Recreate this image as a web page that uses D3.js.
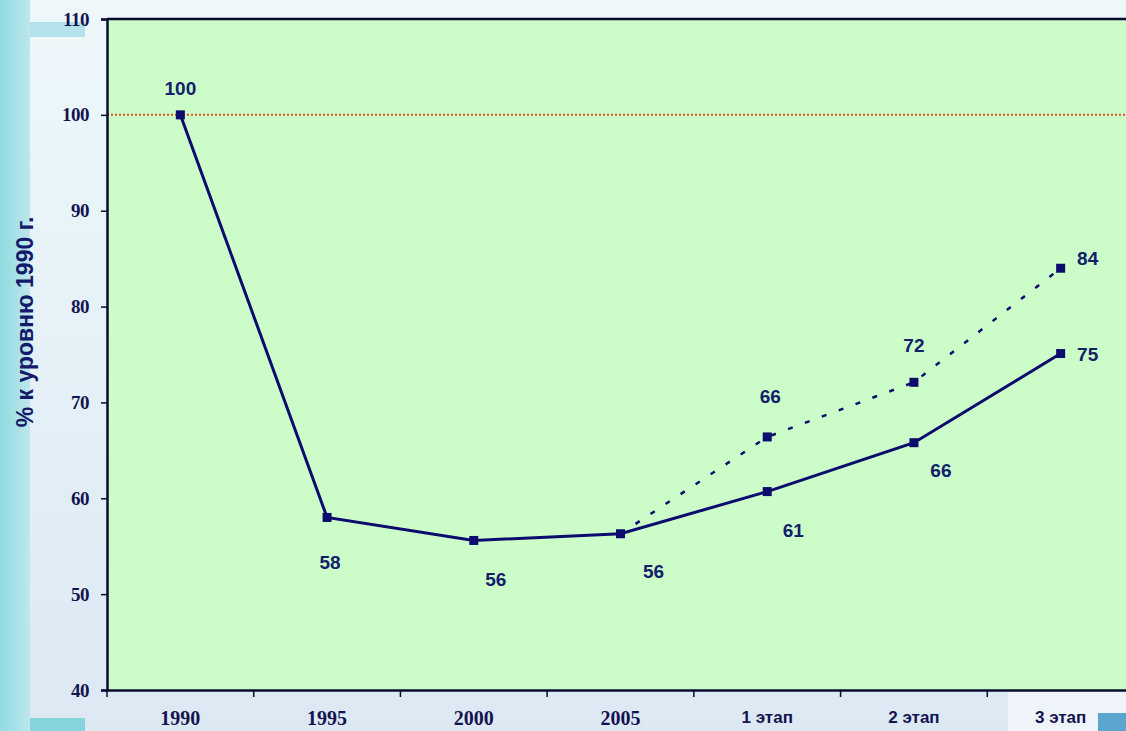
<!DOCTYPE html>
<html>
<head>
<meta charset="utf-8">
<script src="https://cdn.jsdelivr.net/npm/d3@7/dist/d3.min.js"></script>
<style>
  html, body { margin: 0; padding: 0; background: #e6f2f8; }
  svg { display: block; }
</style>
</head>
<body>
<svg id="chart" width="1126" height="731"></svg>
<script>
// Categories along the x axis
const categories = ["1990", "1995", "2000", "2005", "1 этап", "2 этап", "3 этап"];
// Actual index, % of 1990 level
const actualValues = [100, 58, 55.6, 56.3, 60.7, 65.8, 75.1];
// Alternative scenario, starting from 2005
const scenarioCategories = ["2005", "1 этап", "2 этап", "3 этап"];
const scenarioValues = [56.3, 66.4, 72.1, 84];
// Y axis ticks
const yTicks = [40, 50, 60, 70, 80, 90, 100, 110];
const referenceLevel = 100;
const yTitle = "% к уровню 1990 г.";

const svg = d3.select("#chart");
const W = 1126, H = 731;
const plot = { left: 107, top: 19, right: 1134, bottom: 690 };

// Background decoration
const defs = svg.append("defs");
const bg = defs.append("linearGradient").attr("id", "bg").attr("x1", 0).attr("y1", 0).attr("x2", 0).attr("y2", 1);
bg.append("stop").attr("offset", "0%").attr("stop-color", "#eef8fb");
bg.append("stop").attr("offset", "100%").attr("stop-color", "#dce9f3");
const strip = defs.append("linearGradient").attr("id", "strip").attr("x1", 0).attr("y1", 0).attr("x2", 1).attr("y2", 0);
strip.append("stop").attr("offset", "0%").attr("stop-color", "#8fdbe0");
strip.append("stop").attr("offset", "100%").attr("stop-color", "#bfe6ee");

svg.append("rect").attr("width", W).attr("height", H).attr("fill", "url(#bg)");
svg.append("rect").attr("x", 0).attr("y", 0).attr("width", 30).attr("height", H).attr("fill", "url(#strip)");
svg.append("rect").attr("x", 30).attr("y", 22).attr("width", 55).attr("height", 15).attr("fill", "#b3e2ea");
svg.append("rect").attr("x", 30).attr("y", 718).attr("width", 55).attr("height", 13).attr("fill", "#86d5dc");
svg.append("rect").attr("x", 1008).attr("y", 692).attr("width", 118).attr("height", 39).attr("fill", "#eef4f9");
svg.append("rect").attr("x", 1098).attr("y", 713).attr("width", 28).attr("height", 18).attr("fill", "#5aa6cf");

// Scales
const x = d3.scaleBand().domain(categories).range([plot.left, plot.right]).paddingInner(0).paddingOuter(0);
const y = d3.scaleLinear().domain([40, 110]).range([plot.bottom, plot.top]);
const cx = c => x(c) + x.bandwidth() / 2;

// Plot area
svg.append("rect")
  .attr("x", plot.left).attr("y", plot.top)
  .attr("width", plot.right - plot.left).attr("height", plot.bottom - plot.top)
  .attr("fill", "#ccfdc9");
svg.append("line")
  .attr("x1", plot.left).attr("x2", plot.right)
  .attr("y1", plot.top).attr("y2", plot.top)
  .attr("stroke", "#0b0b30").attr("stroke-width", 2.5);

// Reference level line
svg.append("line")
  .attr("x1", plot.left).attr("x2", plot.right)
  .attr("y1", y(referenceLevel)).attr("y2", y(referenceLevel))
  .attr("stroke", "#e0531c").attr("stroke-width", 2)
  .attr("stroke-dasharray", "2,2");

// Axes
const ink = "#141450";
const yAxis = svg.append("g").attr("transform", `translate(${plot.left},0)`)
  .call(d3.axisLeft(y).tickValues(yTicks).tickSize(6).tickPadding(12).tickFormat(d3.format("d")));
const xAxis = svg.append("g").attr("transform", `translate(0,${plot.bottom})`)
  .call(d3.axisBottom(x).tickSize(0).tickPadding(21));
[yAxis, xAxis].forEach(g => {
  g.select(".domain").attr("stroke", "#0b0b30").attr("stroke-width", 2.5);
  g.selectAll(".tick line").attr("stroke", "#0b0b30").attr("stroke-width", 1.5);
});
yAxis.selectAll("text")
  .attr("fill", ink)
  .style("font-family", "'Liberation Serif', 'Times New Roman', serif")
  .style("font-weight", "bold").style("font-size", "19px")
  .style("letter-spacing", "-0.5px");
const isYear = d => /^\d+$/.test(d);
xAxis.selectAll("text")
  .attr("fill", ink)
  .style("font-family", d => isYear(d) ? "'Liberation Serif', 'Times New Roman', serif" : "'Liberation Sans', Arial, sans-serif")
  .style("font-weight", "bold")
  .style("font-size", d => isYear(d) ? "20px" : "17px");
// Tick marks between categories
xAxis.selectAll(".sep")
  .data(categories)
  .enter().append("line")
  .attr("class", "sep")
  .attr("x1", d => x(d)).attr("x2", d => x(d))
  .attr("y1", 0).attr("y2", 7)
  .attr("stroke", "#0b0b30").attr("stroke-width", 1.5);

// Y axis title
svg.append("text")
  .attr("transform", `translate(33,322) rotate(-90)`)
  .attr("text-anchor", "middle")
  .attr("fill", "#141a6a")
  .style("font-family", "'Liberation Sans', Arial, sans-serif")
  .style("font-weight", "bold").style("font-size", "23px")
  .text(yTitle);

const navy = "#0c0c6e";
const actual = categories.map((c, i) => ({ c, v: actualValues[i] }));
const scenario = scenarioCategories.map((c, i) => ({ c, v: scenarioValues[i] }));
const line = d3.line().x(d => cx(d.c)).y(d => y(d.v));

// Scenario (dashed)
svg.append("path").datum(scenario)
  .attr("d", line).attr("fill", "none")
  .attr("stroke", navy).attr("stroke-width", 2.5)
  .attr("stroke-dasharray", "5,13");
// Actual (solid)
svg.append("path").datum(actual)
  .attr("d", line).attr("fill", "none")
  .attr("stroke", navy).attr("stroke-width", 3);

// Markers
const marker = 9;
svg.selectAll(".m").data(actual.concat(scenario.slice(1)))
  .enter().append("rect")
  .attr("x", d => cx(d.c) - marker / 2).attr("y", d => y(d.v) - marker / 2)
  .attr("width", marker).attr("height", marker)
  .attr("fill", navy);

// Value labels (offsets relative to each point)
const fmt = d3.format(".0f");
const actualOffsets = [[0, -20], [3, 52], [22, 46], [33, 44], [26, 45], [27, 34], [27, 7]];
const scenarioOffsets = [null, [3, -34], [0, -30], [27, -3]];
const labelStyle = sel => sel
  .attr("text-anchor", "middle")
  .attr("fill", "#13206a")
  .style("font-family", "'Liberation Sans', Arial, sans-serif")
  .style("font-weight", "bold").style("font-size", "19px");

svg.selectAll(".la").data(actual).enter().append("text")
  .attr("x", (d, i) => cx(d.c) + actualOffsets[i][0])
  .attr("y", (d, i) => y(d.v) + actualOffsets[i][1])
  .call(labelStyle)
  .text(d => fmt(d.v));
svg.selectAll(".ls").data(scenario.slice(1)).enter().append("text")
  .attr("x", (d, i) => cx(d.c) + scenarioOffsets[i + 1][0])
  .attr("y", (d, i) => y(d.v) + scenarioOffsets[i + 1][1])
  .call(labelStyle)
  .text(d => fmt(d.v));
</script>
</body>
</html>
